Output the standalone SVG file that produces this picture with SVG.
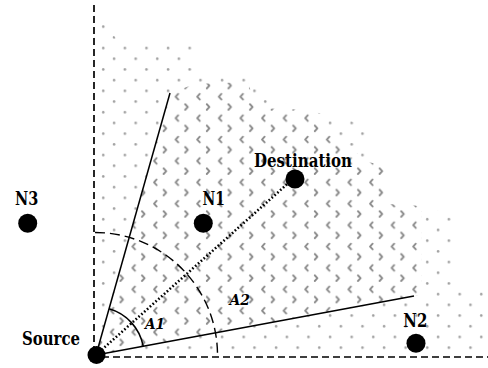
<svg xmlns="http://www.w3.org/2000/svg" width="488" height="368" viewBox="0 0 488 368">
<style>
.lbl{font-family:'DejaVu Serif','Liberation Serif',serif;font-weight:bold;font-size:18.5px;fill:#000}
.ang{font-family:'DejaVu Serif','Liberation Serif',serif;font-style:italic;font-weight:bold;font-size:15px;fill:#000}
.node{fill:#000}
.axis{fill:none;stroke:#000;stroke-width:1.7;stroke-dasharray:7 4}
.ray{fill:none;stroke:#000;stroke-width:1.5}
.chev{fill:none;stroke:#8a8a8a;stroke-width:1.9;stroke-linecap:round;stroke-linejoin:round}
</style>
<defs>
<pattern id="lt" patternUnits="userSpaceOnUse" x="0" y="0" width="21.6" height="21.4">
<circle cx="16.9" cy="5.3" r="1.3" fill="#a0a0a0"/>
<circle cx="6.1" cy="16" r="1.3" fill="#a0a0a0"/>
</pattern>
<pattern id="dn" patternUnits="userSpaceOnUse" x="0.8" y="-5" width="21.6" height="21.4">
<path class="chev" d="M4.6,13.3 L2,16.1 L4.6,18.9"/>
<path class="chev" d="M11.6,2.2 L14.2,5 L11.6,7.8"/>
</pattern>
</defs>
<rect width="488" height="368" fill="#fff"/>
<g id="regions">
<path d="M94,8 L120,44 L197,44 L197,77 L250,77 L292,108 L345,118 L366,128 L366,160 L386,168 L386,205 L420,205 L452,215 L452,290 L488,290 L488,357 L94,357 Z" fill="url(#lt)"/>
<path d="M96,355 L170,93 L195,84 L248,82 L256,108 L312,110 L340,140 L368,162 L386,166 L388,204 L422,206 L422,295 L414,296 Z" fill="#fff"/>
<path d="M96,355 L170,93 L195,84 L248,82 L256,108 L312,110 L340,140 L368,162 L386,166 L388,204 L422,206 L422,295 L414,296 Z" fill="url(#dn)"/>
</g>
<g id="connectors">
<line class="axis" x1="94" y1="5" x2="94" y2="352"/>
<line class="axis" x1="102" y1="357" x2="488" y2="357"/>
<line class="ray" x1="96" y1="355" x2="170" y2="93"/>
<line class="ray" x1="96" y1="355" x2="414" y2="296"/>
<line x1="96" y1="355" x2="294" y2="178" stroke="#000" stroke-width="2.6" stroke-dasharray="1.6 2.2"/>
<path d="M95,232.5 A122.5,122.5 0 0 1 217.5,355" fill="none" stroke="#000" stroke-width="1.4" stroke-dasharray="10 5"/>
<path d="M109.05,308.8 A48,48 0 0 1 143.2,346.2" fill="none" stroke="#000" stroke-width="1.5"/>
</g>
<g id="source"><circle class="node" cx="96.5" cy="355" r="9"/><text class="lbl" x="22" y="345" textLength="58" lengthAdjust="spacingAndGlyphs">Source</text></g>
<g id="destination"><circle class="node" cx="295" cy="179" r="9.5"/><text class="lbl" x="254" y="166.7" textLength="98" lengthAdjust="spacingAndGlyphs">Destination</text></g>
<g id="n1"><circle class="node" cx="203.3" cy="223.3" r="9.5"/><text class="lbl" x="202.5" y="204.7" textLength="22.5" lengthAdjust="spacingAndGlyphs">N1</text></g>
<g id="n2"><circle class="node" cx="416" cy="343.3" r="9.5"/><text class="lbl" x="403.3" y="326.7" textLength="24" lengthAdjust="spacingAndGlyphs">N2</text></g>
<g id="n3"><circle class="node" cx="27.7" cy="223.3" r="9.5"/><text class="lbl" x="15" y="204.7" textLength="23.3" lengthAdjust="spacingAndGlyphs">N3</text></g>
<g id="angles"><text class="ang" x="145" y="328.5" textLength="20" lengthAdjust="spacingAndGlyphs">A1</text><text class="ang" x="229.5" y="305" textLength="20.5" lengthAdjust="spacingAndGlyphs">A2</text></g>
</svg>
